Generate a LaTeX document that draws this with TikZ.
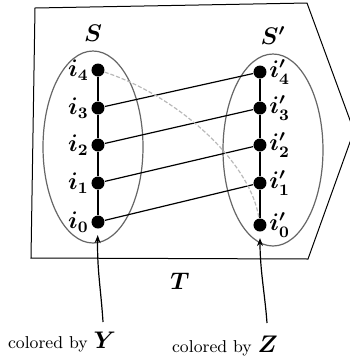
\documentclass[tikz,border=0pt]{standalone}
\usepackage{amsmath}
\usetikzlibrary{arrows.meta,shapes.geometric}

\tikzset{
  vertex/.style={circle,fill=black,inner sep=0pt,minimum size=6.5pt},
  setshape/.style={draw=black!60,ellipse,minimum width=50pt,minimum height=96pt,inner sep=0pt},
  mlab/.style={font=\fontsize{11.5}{13}\selectfont\boldmath},
  captext/.style={anchor=base,inner sep=0pt,font=\fontsize{8.6}{10}\selectfont},
  pointer/.style={-{Stealth[length=4pt,width=3pt]},shorten >=3pt},
}

\begin{document}
\begin{tikzpicture}[x=0.5pt,y=-0.5pt,line width=0.6pt]
  \useasboundingbox (0,0) rectangle (350,361);
  % the outer region T
  \draw[line width=0.5pt] (35,8) -- (307,3) -- (354,131) -- (308,259) -- (31,258) -- cycle;
  \node[mlab] (T) at (180,281) {$T$};
  % the two sets
  \node[setshape,label={[mlab,label distance=1pt]above:$S$}] (setS) at (93,147) {};
  \node[setshape,label={[mlab,label distance=1pt]above:$S'$}] (setSp) at (273,150) {};
  % vertices of S
  \node[vertex,label={[mlab,label distance=-2.5pt]left:$i_4$}] (i4) at (98,70) {};
  \node[vertex,label={[mlab,label distance=-2.5pt]left:$i_3$}] (i3) at (98,108) {};
  \node[vertex,label={[mlab,label distance=-2.5pt]left:$i_2$}] (i2) at (98,145) {};
  \node[vertex,label={[mlab,label distance=-2.5pt]left:$i_1$}] (i1) at (98,183) {};
  \node[vertex,label={[mlab,label distance=-2.5pt]left:$i_0$}] (i0) at (98,222) {};
  % vertices of S'
  \node[vertex,label={[mlab,label distance=-2.5pt]right:$i'_4$}] (j4) at (260,72) {};
  \node[vertex,label={[mlab,label distance=-2.5pt]right:$i'_3$}] (j3) at (260,108) {};
  \node[vertex,label={[mlab,label distance=-2.5pt]right:$i'_2$}] (j2) at (260,145) {};
  \node[vertex,label={[mlab,label distance=-2.5pt]right:$i'_1$}] (j1) at (260,183) {};
  \node[vertex,label={[mlab,label distance=-2.5pt]right:$i'_0$}] (j0) at (260,225) {};
  \draw (i0) -- (i1) -- (i2) -- (i3) -- (i4);
  \draw (j0) -- (j1) -- (j2) -- (j3) -- (j4);
  \draw (i3) -- (j4);
  \draw (i2) -- (j3);
  \draw (i1) -- (j2);
  \draw (i0) -- (j1);
  \draw[gray!55,dash pattern=on 2pt off 1pt] (i4) .. controls (175,95) and (250,160) .. (j0);
  % captions
  \node[captext] (colY) at (62,348) {colored by {\fontsize{12.5}{14}\selectfont\boldmath$Y$}};
  \node[captext] (colZ) at (225,352) {colored by {\fontsize{12.5}{14}\selectfont\boldmath$Z$}};
  \coordinate (tailY) at (103,322);
  \coordinate (tailZ) at (267,323);
  \draw[pointer] (tailY) .. controls (101,290) and (97,270) .. (i0);
  \draw[pointer] (tailZ) .. controls (265,295) and (260,270) .. (j0);
\end{tikzpicture}
\end{document}
